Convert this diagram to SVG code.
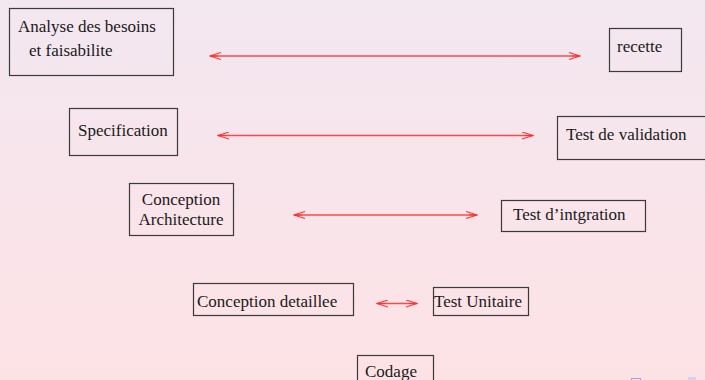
<svg xmlns="http://www.w3.org/2000/svg" width="705" height="380" viewBox="0 0 705 380">
<defs>
<linearGradient id="bg" x1="0" y1="0" x2="0" y2="1">
<stop offset="0" stop-color="#f3e7f0"/>
<stop offset="1" stop-color="#fde2e5"/>
</linearGradient>
<marker id="ah" viewBox="0 0 12 8" refX="11" refY="4" markerWidth="12" markerHeight="8" markerUnits="userSpaceOnUse" orient="auto-start-reverse">
<path d="M0,0.5 L11,4 L0,7.5 M3,4 L11,4" fill="none" stroke="#ff3030" stroke-width="1.1"/>
</marker>
<style>
.box{fill:none;stroke:#3a3a3a;stroke-width:1.2}
.t{font-family:"Liberation Serif",serif;font-size:17px;fill:#1a1a1a}
.arr{stroke:#ff4848;stroke-width:1.3;fill:none;marker-start:url(#ah);marker-end:url(#ah)}
</style>
</defs>
<rect width="705" height="380" fill="url(#bg)"/>
<g id="n1"><rect class="box" x="9.5" y="8.5" width="164" height="67"/><text class="t" x="18" y="32">Analyse des besoins</text><text class="t" x="29" y="56">et faisabilite</text></g>
<g id="n2"><rect class="box" x="609.5" y="28.5" width="72" height="43"/><text class="t" x="617" y="52">recette</text></g>
<g id="n3"><rect class="box" x="69.5" y="108.5" width="108" height="47"/><text class="t" x="78" y="136">Specification</text></g>
<g id="n4"><rect class="box" x="557.5" y="116.5" width="150" height="43"/><text class="t" x="566" y="140">Test de validation</text></g>
<g id="n5"><rect class="box" x="129.5" y="183.5" width="104" height="52"/><text class="t" x="181" y="205" text-anchor="middle">Conception</text><text class="t" x="181" y="225" text-anchor="middle">Architecture</text></g>
<g id="n6"><rect class="box" x="501.5" y="200.5" width="144" height="31"/><text class="t" x="513" y="220">Test d’intgration</text></g>
<g id="n7"><rect class="box" x="193.5" y="283.5" width="160" height="32"/><text class="t" x="197" y="307">Conception detaillee</text></g>
<g id="n8"><rect class="box" x="433.5" y="287.5" width="95" height="28"/><text class="t" x="434" y="307">Test Unitaire</text></g>
<g id="n9"><rect class="box" x="357.5" y="355.5" width="76" height="30"/><text class="t" x="365" y="377">Codage</text></g>
<g id="connectors">
<line class="arr" x1="210" y1="56" x2="580" y2="56"/>
<line class="arr" x1="218" y1="135.5" x2="533" y2="135.5"/>
<line class="arr" x1="294" y1="215" x2="477" y2="215"/>
<line class="arr" x1="377" y1="303.5" x2="417" y2="303.5"/>
</g>
<rect x="631.5" y="378.5" width="9" height="4" fill="none" stroke="#a8a0e0" stroke-width="1"/>
<rect x="688" y="377" width="8" height="3" fill="#d8d0f0"/>
</svg>
